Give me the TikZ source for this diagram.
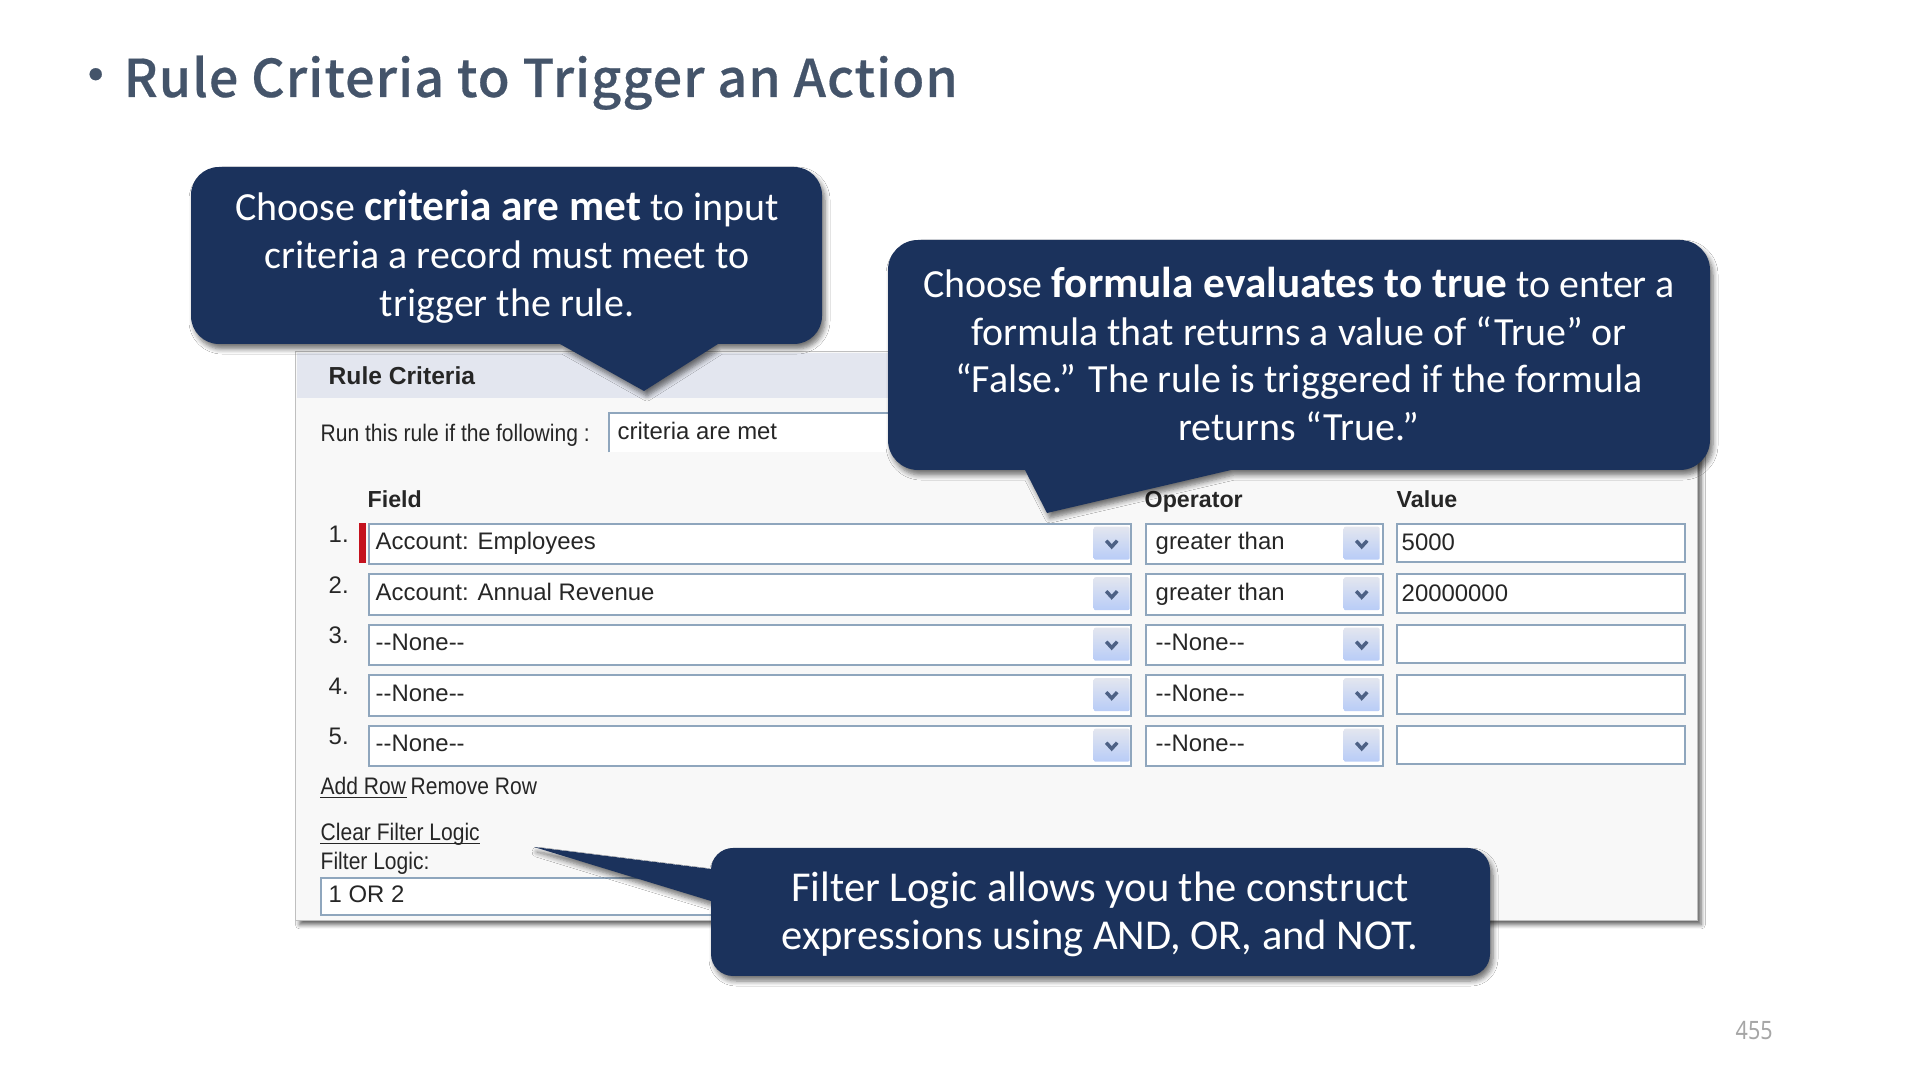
\documentclass[tikz,border=0pt]{standalone}
\usepackage{xcolor}
\usepackage{fontspec}
\setmainfont{Carlito}
\newfontfamily\uifont{Liberation Sans}
\newfontfamily\uitight{Liberation Sans}[FakeStretch=0.88]
\newfontfamily\headfont{Noto Sans CJK SC Medium}[LetterSpace=2.1, FakeBold=0.4]
\newfontfamily\pagefont{Noto Sans}[FakeStretch=0.85]
\definecolor{notenavy}{RGB}{27, 50, 92}
\definecolor{headslate}{RGB}{68, 84, 106}
\definecolor{panelgray}{RGB}{248, 248, 248}
\definecolor{paneltop}{RGB}{227, 230, 239}
\definecolor{boxedge}{RGB}{143, 166, 189}
\definecolor{chevblue}{RGB}{77, 97, 133}
\definecolor{flagred}{RGB}{196, 18, 30}
\definecolor{btnlow}{RGB}{184, 204, 247}
\usetikzlibrary{shadows,shadows.blur}
\newcommand{\notebold}[1]{{\fontsize{12.3pt}{13.6pt}\selectfont\bfseries #1}}
\tikzset{
    panelbox/.style={rectangle, anchor=north west, inner sep=0pt, fill=panelgray, draw=gray!50, line width=0.01cm,
        blur shadow={shadow xshift=0.04cm, shadow yshift=-0.04cm, shadow blur radius=0.04cm, shadow blur steps=6, shadow opacity=60}},
    formbox/.style={rectangle, anchor=north west, inner sep=0pt, fill=white, draw=boxedge, line width=0.02cm, minimum height=0.4cm},
    dropbtn/.style={rectangle, rounded corners=0.02cm, anchor=north west, inner sep=0pt, top color=paneltop, bottom color=btnlow, minimum width=0.36cm, minimum height=0.33cm},
    uitext/.style={anchor=base west, inner sep=0pt, font=\uifont\fontsize{6.8pt}{8pt}\selectfont, text=black!85},
    uitight/.style={uitext, font=\uitight\fontsize{6.8pt}{8pt}\selectfont},
    uihead/.style={uitext, font=\uifont\bfseries\fontsize{6.6pt}{8pt}\selectfont},
    headtext/.style={anchor=base west, inner sep=0pt, text=headslate, font=\headfont\fontsize{14.8pt}{18pt}\selectfont},
    linkline/.style={black!85, line width=0.015cm},
    note/.style={fill=notenavy, blur shadow={shadow xshift=0.03cm, shadow yshift=-0.05cm, shadow blur radius=0.05cm, shadow blur steps=6, shadow opacity=55}},
    notetext/.style={align=center, inner sep=0pt, text=white, font=\fontsize{11.35pt}{13.6pt}\selectfont},
}
\begin{document}
\begin{tikzpicture}[x=0.01cm, y=-0.01cm]
    \useasboundingbox (0,0) rectangle (1920,1080);
    \fill[white] (0,0) rectangle (1920,1080);

    % Title and page number
    \node[headtext] (bullet) at (69,94) {•};
    \node[headtext] (title) at (123,97) {Rule Criteria to Trigger an Action};
    \node[anchor=base west, inner sep=0pt, text=black!35, font=\pagefont\fontsize{7.2pt}{8pt}\selectfont] (pagenum) at (1735,1040) {455};

    % Screenshot panel
    \node[panelbox, minimum width=14.01cm, minimum height=5.69cm] (panel) at (295,351) {};
    \node[rectangle, anchor=north west, inner sep=0pt, fill=paneltop, minimum width=13.99cm, minimum height=0.45cm] (paneltopbar) at (296,352) {};
    \node[uihead, font=\uifont\bfseries\fontsize{7pt}{8pt}\selectfont] (ruletitle) at (328,385) {Rule Criteria};
    \node[uitight] (runlabel) at (320,442) {Run this rule if the following :};
    \node[rectangle, anchor=north west, inner sep=0pt, fill=white, minimum width=3.2cm, minimum height=0.38cm] (runinput) at (609,413) {};
    \draw[boxedge, line width=0.02cm] (runinput.south west) -- (runinput.north west) -- (runinput.north east);
    \node[uitext] (runvalue) at (617,440) {criteria are met};

    % Column heads
    \node[uihead] (fieldhead) at (367,508) {Field};
    \node[uihead] (ophead) at (1144,508) {Operator};
    \node[uihead] (valhead) at (1396,508) {Value};

    % Rows
    \foreach \row/\ytop/\fieldtxt/\optxt/\valtxt in {
        1/523/Account: Employees/greater than/5000,
        2/573.5/Account: Annual Revenue/greater than/20000000,
        3/624/--None--/--None--/{},
        4/674.5/--None--/--None--/{},
        5/725/--None--/--None--/{}} {
        \node[uitext] (num\row) at (328,\ytop+20) {\row.};
        \node[formbox, minimum width=7.62cm] (field\row) at (368,\ytop) {};
        \node[formbox, minimum width=2.37cm] (op\row) at (1145,\ytop) {};
        \node[formbox, minimum width=2.88cm, minimum height=0.38cm] (val\row) at (1396,\ytop) {};
        \node[dropbtn] (fieldbtn\row) at (1093,\ytop+3) {};
        \node[dropbtn] (opbtn\row) at (1343,\ytop+3) {};
        \foreach \btn in {fieldbtn\row, opbtn\row} {
            \draw[chevblue, line width=0.035cm] ([xshift=-0.055cm, yshift=0.025cm]\btn.center) -- ([yshift=-0.035cm]\btn.center) -- ([xshift=0.055cm, yshift=0.025cm]\btn.center);
        }
        \node[uitext] (fieldtext\row) at (375,\ytop+27) {\fieldtxt};
        \node[uitext] (optext\row) at (1155,\ytop+27) {\optxt};
        \node[uitext] (valtext\row) at (1401,\ytop+28) {\valtxt};
    }
    \fill[flagred] (359,523) rectangle (366,563);

    % Links and filter box
    \node[uitight] (addrow) at (320,795) {Add Row};
    \node[uitight] (removerow) at (410,795) {Remove Row};
    \node[uitight] (clearlogic) at (320,841) {Clear Filter Logic};
    \node[uitight] (logiclabel) at (320,870) {Filter Logic:};
    \draw[linkline] ([yshift=-0.025cm]addrow.base west) -- ([yshift=-0.025cm]addrow.base east);
    \draw[linkline] ([yshift=-0.025cm]clearlogic.base west) -- ([yshift=-0.025cm]clearlogic.base east);
    \node[formbox, minimum width=4.2cm, minimum height=0.37cm] (logicbox) at (320,877) {};
    \node[uitext] (logicvalue) at (328,903) {1 OR 2};

    % Callouts
    \path[note] (560,344) -- (644,391) -- (718,344) [rounded corners=0.28cm] -- (822,344) -- (822,167) -- (191,167) -- (191,344) [sharp corners] -- cycle;
    \node[notetext] (criterianote) at (507,257) {Choose \notebold{criteria are met} to input\\criteria a record must meet to\\trigger the rule.};

    \path[note] (1025,470) -- (1047,513) -- (1231,470) [rounded corners=0.3cm] -- (1710,470) -- (1710,240) -- (888,240) -- (888,470) [sharp corners] -- cycle;
    \node[notetext] (formulanote) at (1299,354) {Choose \notebold{formula evaluates to true} to enter a\\formula that returns a value of “True” or\\“False.” The rule is triggered if the formula\\returns “True.”};

    \path[note] (711,869) -- (534,847) -- (711,901) [rounded corners=0.22cm] -- (711,976) -- (1490,976) -- (1490,848) -- (711,848) [sharp corners] -- cycle;
    \node[notetext, font=\fontsize{12.1pt}{13.6pt}\selectfont] (logicnote) at (1100,914) {Filter Logic allows you the construct\\expressions using AND, OR, and NOT.};
\end{tikzpicture}
\end{document}
